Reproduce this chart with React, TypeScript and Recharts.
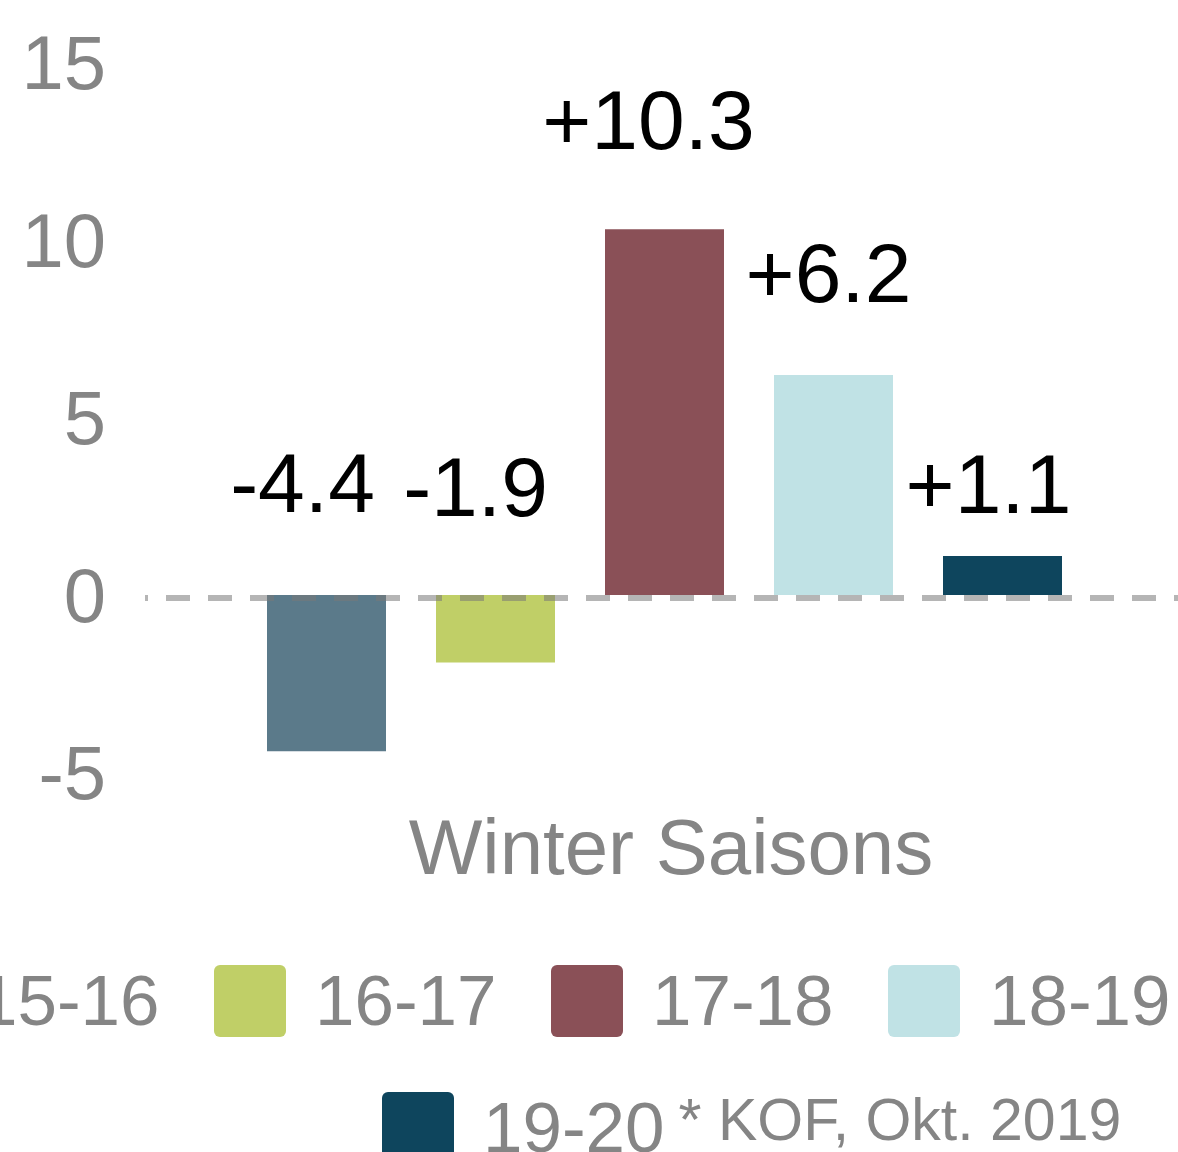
import { BarChart, Bar, XAxis, YAxis, ReferenceLine, Legend, LabelList } from 'recharts';

const categories = ['Winter Saisons'];
const seasons = ['15-16', '16-17', '17-18', '18-19', '19-20'];
const changes = [-4.4, -1.9, 10.3, 6.2, 1.1];
const valueLabels = ['-4.4', '-1.9', '+10.3', '+6.2', '+1.1'];
const yTicks = [-5, 0, 5, 10, 15];
const footnote = '* KOF, Okt. 2019';

const colors = ['#5b7a8a', '#c0cf67', '#8a5057', '#c0e2e5', '#0e455d'];
// value labels were placed by hand in the original slide: [dx from bar centre, dy from bar top]
const labelNudge = [[-24, -83], [-20, -79], [-16, -80], [-5, -73], [-14, -43]];

const font = '"Liberation Sans", Arial, sans-serif';
const grey = '#858585';

const chartData = categories.map((name) => {
  const row: Record<string, string | number> = { name };
  seasons.forEach((s, i) => {
    row[s] = changes[i];
  });
  return row;
});

const makeLabel = (i: number) => (props: any) => {
  const vb = props.viewBox && props.viewBox.width != null ? props.viewBox : props;
  const x = Number(vb.x);
  const y = Number(vb.y);
  const w = Number(vb.width);
  const h = Number(vb.height);
  const top = Math.min(y, y + h);
  return (
    <text
      x={x + w / 2 + labelNudge[i][0]}
      y={top + labelNudge[i][1]}
      textAnchor="middle"
      fontSize={84}
      fontFamily={font}
      fill="#000"
    >
      {valueLabels[i]}
    </text>
  );
};

// dashed zero line sits a few pixels below the bar base in the original
const ZeroLine = (p: any) => (
  <line
    x1={p.x1}
    x2={p.x2}
    y1={Number(p.y1) + 3}
    y2={Number(p.y2) + 3}
    stroke={p.stroke}
    strokeWidth={p.strokeWidth}
    strokeDasharray={p.strokeDasharray}
    strokeDashoffset={21}
  />
);

const LegendRows = (props: any) => {
  const payload = [...(props.payload ?? [])].sort(
    (a: any, b: any) => seasons.indexOf(a.value) - seasons.indexOf(b.value)
  );
  const swatch = (p: any) => (
    <span style={{ width: 72, height: 72, borderRadius: 6, background: p.color, marginRight: 29, flex: 'none' }} />
  );
  const label = (p: any) => <span style={{ fontSize: 71, lineHeight: '72px', color: grey }}>{p.value}</span>;
  return (
    <div style={{ fontFamily: font, whiteSpace: 'nowrap' }}>
      <div style={{ position: 'absolute', left: -123, top: 965, display: 'flex' }}>
        {payload.slice(0, 4).map((p: any) => (
          <div key={p.value} style={{ display: 'flex', alignItems: 'flex-start', width: 337, flex: 'none' }}>
            {swatch(p)}
            {label(p)}
          </div>
        ))}
      </div>
      <div style={{ position: 'absolute', left: 382, top: 1092, display: 'flex', alignItems: 'flex-start' }}>
        {payload.slice(4).map((p: any) => (
          <div key={p.value} style={{ display: 'flex', alignItems: 'flex-start' }}>
            {swatch(p)}
            {label(p)}
          </div>
        ))}
        <span style={{ fontSize: 59, lineHeight: '72px', color: grey, marginLeft: 14, marginTop: -8 }}>
          {footnote}
        </span>
      </div>
    </div>
  );
};

export default function App() {
  return (
    <div style={{ position: 'absolute', left: 0, top: 0, width: 1178, height: 1152, overflow: 'hidden', background: '#fff' }}>
      <BarChart
        width={1178}
        height={1152}
        data={chartData}
        margin={{ top: 62.5, right: -5, bottom: 279.5, left: 0 }}
        barSize={119}
        barGap={50}
      >
        <XAxis
          dataKey="name"
          axisLine={false}
          tickLine={false}
          tickSize={0}
          tickMargin={46}
          height={100}
          dx={7}
          tick={{ fill: grey, fontSize: 78, fontFamily: font }}
        />
        <YAxis
          domain={[-5, 15]}
          ticks={yTicks}
          axisLine={false}
          tickLine={false}
          tickSize={0}
          tickMargin={39}
          width={145}
          tick={{ fill: grey, fontSize: 76, fontFamily: font }}
        />
        <Legend
          content={<LegendRows />}
          wrapperStyle={{ left: 0, top: 0, bottom: 'auto', width: 1178, height: 0 }}
        />
        {seasons.map((s, i) => (
          <Bar key={s} dataKey={s} name={s} fill={colors[i]} isAnimationActive={false}>
            <LabelList dataKey={s} content={makeLabel(i)} />
          </Bar>
        ))}
        <ReferenceLine
          y={0}
          stroke="rgba(120,120,120,0.55)"
          strokeWidth={6}
          strokeDasharray="24 18"
          shape={ZeroLine}
        />
      </BarChart>
    </div>
  );
}
